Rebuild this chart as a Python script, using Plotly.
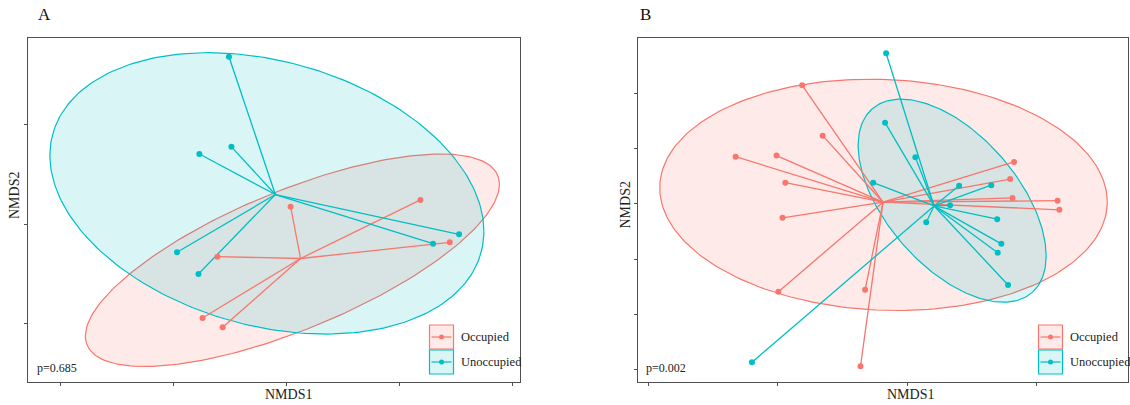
import numpy as np
import plotly.graph_objects as go

# ---------------- data ----------------
groups = ["Occupied", "Unoccupied"]
colors = {"Occupied": "#F8766D", "Unoccupied": "#00BFC4"}
fills = {"Occupied": "rgba(248,118,109,0.15)", "Unoccupied": "rgba(0,191,196,0.15)"}

# Panel A: NMDS scores
a_occ_x = [0.017, -0.307, -0.373, -0.284, 0.592, 0.722]
a_occ_y = [0.087, -0.164, -0.472, -0.519, 0.121, -0.092]
a_unocc_x = [-0.256, -0.245, -0.387, -0.486, -0.391, 0.648, 0.763]
a_unocc_y = [0.841, 0.388, 0.352, -0.142, -0.251, -0.099, -0.052]

# Panel B: NMDS scores
b_occ_x = [-0.406, -0.327, -0.663, -0.505, -0.471, -0.482, -0.498,
           -0.163, -0.181, 0.412, 0.397, 0.406, 0.580, 0.587]
b_occ_y = [0.429, 0.247, 0.171, 0.175, 0.077, -0.050, -0.317,
           -0.310, -0.587, 0.152, 0.090, 0.022, 0.012, -0.021]
b_unocc_x = [-0.082, -0.086, 0.031, -0.132, 0.200, 0.324, 0.165,
             0.073, 0.347, 0.363, 0.349, 0.389, -0.600]
b_unocc_y = [0.545, 0.294, 0.169, 0.077, 0.066, 0.068, -0.005,
             -0.066, -0.055, -0.144, -0.176, -0.293, -0.572]

# Confidence ellipses: centre x, centre y, half-width, half-height, correlation
a_occ_ellipse = [0.025, -0.182, 0.917, 0.534, 0.714]
a_unocc_ellipse = [-0.088, 0.154, 0.961, 0.707, -0.270]
b_occ_ellipse = [-0.092, 0.033, 0.864, 0.418, -0.061]
b_unocc_ellipse = [0.173, 0.012, 0.363, 0.367, -0.544]

p_values = ["p=0.685", "p=0.002"]
panel_labels = ["A", "B"]

# ---------------- layout geometry (pixels) ----------------
W, H = 1130, 405
FONT = "Liberation Serif, Times New Roman, serif"


def fx(p):
    return p / W


def fy(p):
    return 1 - p / H


def ellipse_path(cx, cy, hx, hy, rho, n=240):
    t = np.linspace(0, 2 * np.pi, n)
    x = cx + hx * np.cos(t)
    y = cy + hy * (rho * np.cos(t) + np.sqrt(1 - rho ** 2) * np.sin(t))
    return x, y


def spider(xs, ys):
    cx, cy = float(np.mean(xs)), float(np.mean(ys))
    lx, ly = [], []
    for x, y in zip(xs, ys):
        lx += [cx, x, None]
        ly += [cy, y, None]
    return lx, ly


fig = go.Figure()

panels = [
    ("x", "y", {"Occupied": (a_occ_x, a_occ_y, a_occ_ellipse),
                "Unoccupied": (a_unocc_x, a_unocc_y, a_unocc_ellipse)}),
    ("x2", "y2", {"Occupied": (b_occ_x, b_occ_y, b_occ_ellipse),
                  "Unoccupied": (b_unocc_x, b_unocc_y, b_unocc_ellipse)}),
]

for xa, ya, data in panels:
    # ellipses
    for g in groups:
        ex, ey = ellipse_path(*data[g][2])
        fig.add_trace(go.Scatter(x=ex, y=ey, mode="lines", fill="toself",
                                 fillcolor=fills[g],
                                 line=dict(color=colors[g], width=1.2),
                                 xaxis=xa, yaxis=ya, showlegend=False,
                                 hoverinfo="skip"))
    # spider segments to group centroid
    for g in groups:
        lx, ly = spider(data[g][0], data[g][1])
        fig.add_trace(go.Scatter(x=lx, y=ly, mode="lines",
                                 line=dict(color=colors[g], width=1.3),
                                 xaxis=xa, yaxis=ya, showlegend=False,
                                 hoverinfo="skip"))
    # sample points
    for g in groups:
        fig.add_trace(go.Scatter(x=data[g][0], y=data[g][1], mode="markers",
                                 marker=dict(color=colors[g], size=6),
                                 name=g, xaxis=xa, yaxis=ya, showlegend=False))

axis_common = dict(showline=True, mirror=True, linecolor="#505050", linewidth=1,
                   ticks="outside", ticklen=3, tickcolor="#505050", tickwidth=1,
                   showticklabels=False, showgrid=False, zeroline=False)

y_dom = [fy(382), fy(38)]
fig.update_layout(
    width=W, height=H, margin=dict(l=0, r=0, t=0, b=0),
    paper_bgcolor="white", plot_bgcolor="white",
    xaxis=dict(domain=[fx(28), fx(520)], range=[-1.146, 1.033],
               tickvals=[-1, -0.5, 0, 0.5, 1], anchor="y", **axis_common),
    yaxis=dict(domain=y_dom, range=[-0.794, 0.935],
               tickvals=[-0.5, 0, 0.5], anchor="x", **axis_common),
    xaxis2=dict(domain=[fx(638), fx(1128)], range=[-1.040, 0.852],
                tickvals=[-1, -0.5, 0, 0.5], anchor="y2", **axis_common),
    yaxis2=dict(domain=y_dom, range=[-0.6435, 0.600],
                tickvals=[-0.6, -0.4, -0.2, 0, 0.2, 0.4], anchor="x2", **axis_common),
    font=dict(family=FONT, color="#222222"),
)

annotations = []
shapes = []

# per-panel text: panel letter, axis titles, p-value; and legend boxes
panel_geo = [
    # letter_x, xtitle_x, ytitle_x, ytitle_y, p_x, legend_left
    (35.5, 288.5, 14, 196, 35, 429.5),
    (638, 910, 624.5, 205, 644, 1038.5),
]
for i, (lx, xtx, ytx, yty, px, lg) in enumerate(panel_geo):
    annotations.append(dict(text=panel_labels[i], x=fx(lx), y=fy(15), xref="paper", yref="paper",
                            xanchor="left", yanchor="middle", showarrow=False,
                            font=dict(size=17, family=FONT, color="#111111")))
    annotations.append(dict(text="NMDS1", x=fx(xtx), y=fy(394), xref="paper", yref="paper",
                            xanchor="center", yanchor="middle", showarrow=False,
                            font=dict(size=14, family=FONT, color="#222222")))
    annotations.append(dict(text="NMDS2", x=fx(ytx), y=fy(yty), xref="paper", yref="paper",
                            xanchor="center", yanchor="middle", showarrow=False, textangle=-90,
                            font=dict(size=14, family=FONT, color="#222222")))
    annotations.append(dict(text=p_values[i], x=fx(px), y=fy(367.5), xref="paper", yref="paper",
                            xanchor="left", yanchor="middle", showarrow=False,
                            font=dict(size=12, family=FONT, color="#222222")))
    for j, g in enumerate(groups):
        top = 325 + 25 * j
        bot = top + 24
        mid = (top + bot) / 2
        shapes.append(dict(type="rect", xref="paper", yref="paper",
                           x0=fx(lg), x1=fx(lg + 24), y0=fy(bot), y1=fy(top),
                           fillcolor=fills[g], line=dict(color=colors[g], width=1.2)))
        shapes.append(dict(type="line", xref="paper", yref="paper",
                           x0=fx(lg + 2), x1=fx(lg + 22), y0=fy(mid), y1=fy(mid),
                           line=dict(color=colors[g], width=1.2)))
        shapes.append(dict(type="circle", xref="paper", yref="paper",
                           x0=fx(lg + 12 - 2.5), x1=fx(lg + 12 + 2.5),
                           y0=fy(mid + 2.5), y1=fy(mid - 2.5),
                           fillcolor=colors[g], line=dict(color=colors[g], width=0)))
        annotations.append(dict(text=g, x=fx(lg + 29), y=fy(mid), xref="paper", yref="paper",
                                xanchor="left", yanchor="middle", showarrow=False,
                                font=dict(size=12.5, family=FONT, color="#222222")))

fig.update_layout(annotations=annotations, shapes=shapes)

fig.write_html("out.html")
